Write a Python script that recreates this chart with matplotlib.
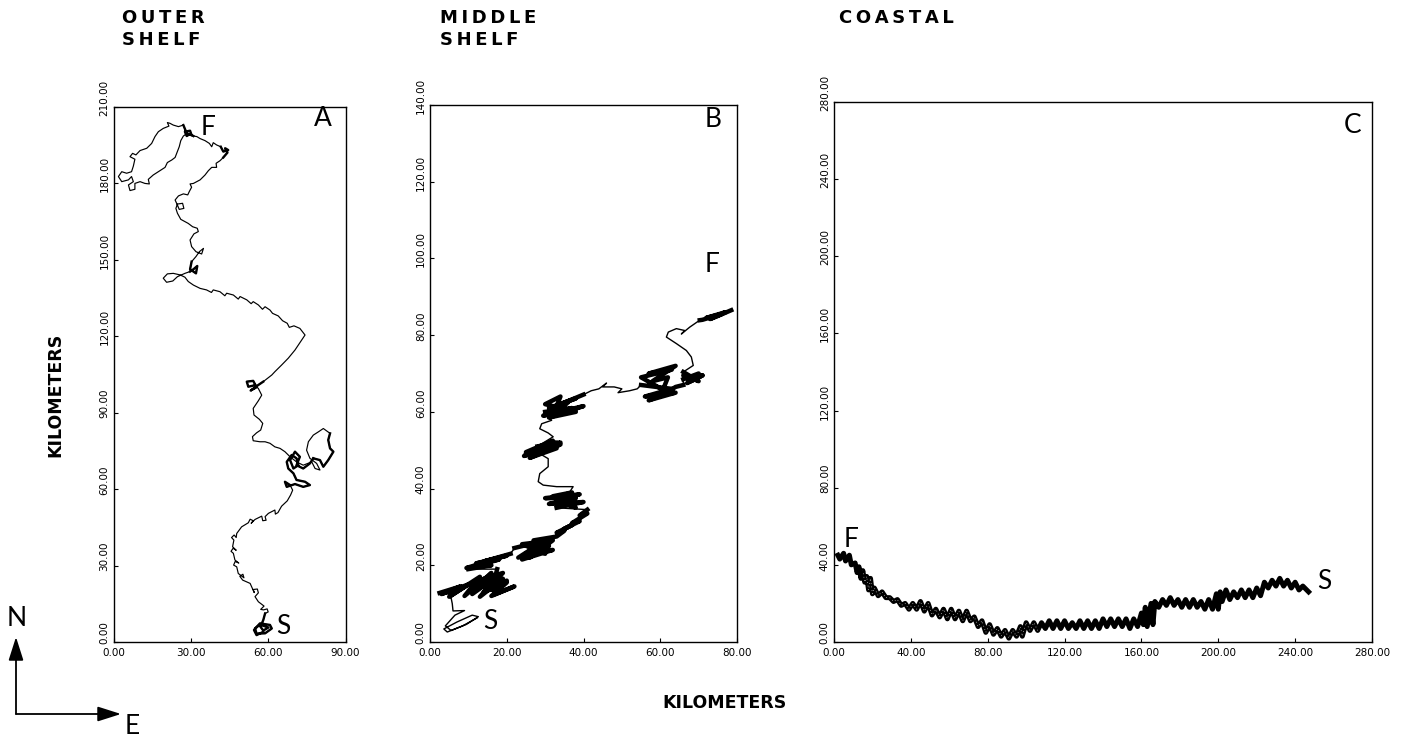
import matplotlib
matplotlib.use("Agg")
import matplotlib.pyplot as plt
import matplotlib.transforms as mtransforms
from matplotlib.patches import FancyArrowPatch
from matplotlib.ticker import FormatStrFormatter

# ---------------- data (km, start S -> finish F) ----------------
outer_x = [58.1, 55.5, 54.5, 56.8, 60.7, 61.4, 58.8, 55.5, 54.9, 56.8, 60.1, 58.1, 57.0, 58.1, 58.8,
           60.0, 59.6, 58.2, 57.1, 58.4, 56.2, 54.9, 56.2, 55.8, 54.2, 54.6, 53.0, 50.1, 49.0, 50.2,
           50.6, 48.4, 47.8, 46.6, 47.2, 48.6, 47.1, 46.5, 45.6, 46.4, 47.6, 46.2, 46.7, 45.8, 46.8,
           47.6, 47.8, 49.7, 52.3, 53.0, 54.2, 53.4, 54.9, 57.5, 57.9, 59.2, 58.8, 60.1, 62.6, 62.8,
           63.8, 65.2, 67.4, 68.7, 69.5,
           68.5, 66.5, 67.2, 70.4, 73.6, 76.2, 74.3, 71.0, 69.8, 67.8, 67.2, 69.1, 71.0, 71.7, 69.8,
           68.5, 70.4, 72.3, 71.0, 73.6, 76.2, 77.5, 80.1, 81.4, 83.3, 85.3, 84.0, 83.3, 84.0, 81.4,
           79.5, 77.5, 75.6, 74.9, 76.2, 78.8, 80.1, 78.2, 76.9, 73.6, 71.0, 68.5, 66.5, 64.6, 62.6,
           60.7, 58.8, 56.8, 54.2, 53.9, 55.5, 57.1, 57.9, 56.6, 54.5, 54.2, 56.2, 57.5, 56.2, 54.9,
           52.3, 51.7, 54.2, 55.5, 53.2, 56.2, 58.1, 61.4, 62.6, 65.2, 67.8, 70.4, 72.6, 74.3,
           72.3, 70.0, 68.2, 67.4, 65.6, 63.9, 61.7, 60.7, 58.8, 57.8, 56.2, 54.2, 53.4, 51.7, 49.1,
           48.4, 46.5, 43.9, 43.2, 41.3, 38.7, 38.0, 36.1, 33.6, 31.0, 29.0, 27.7, 25.8, 23.2, 20.9,
           19.3, 20.6, 23.0, 24.8, 27.7, 29.7, 31.0, 32.5, 32.0, 29.7, 30.3, 32.0, 33.3, 34.9, 34.2,
           32.0, 30.3, 29.7, 31.2, 32.9, 32.5, 30.7, 29.0, 27.7, 26.1, 24.8, 24.2, 24.8, 26.8, 27.3,
           25.5, 24.8, 23.9, 25.2, 27.1, 28.8, 29.4, 30.3, 29.7, 31.0, 33.6, 35.5, 36.8, 38.1, 40.0,
           39.8, 41.3, 42.6, 44.2, 43.3, 44.5, 42.6, 41.6, 40.0, 38.7, 38.1, 37.2, 35.5, 33.6, 32.3,
           31.0, 29.7, 28.4, 27.7, 29.7, 30.3, 28.4, 27.1, 25.2, 23.2, 21.9, 20.9, 21.5, 19.3, 17.4,
           16.1, 14.8, 12.9, 10.3, 8.7, 7.4, 6.4, 8.3, 7.7, 7.0, 5.1, 3.2, 1.9, 3.2, 5.8,
           7.0, 7.7, 5.8, 6.4, 8.3, 8.3, 10.3, 12.2, 13.9, 13.5, 15.4, 18.0, 20.0, 20.9, 22.6,
           23.9, 24.8, 25.5, 26.1, 27.1, 28.6]
outer_y = [4.0, 2.7, 4.7, 7.3, 6.7, 5.3, 3.4, 3.3, 5.3, 6.8, 5.7, 4.5, 6.0, 8.6, 11.2,
           11.8, 13.0, 12.6, 12.8, 14.1, 15.8, 17.8, 19.3, 20.8, 20.6, 19.4, 23.0, 24.3, 25.8, 26.6,
           25.2, 26.9, 29.5, 30.2, 31.6, 31.0, 32.2, 34.8, 35.6, 36.8, 36.0, 37.4, 40.0, 41.0, 42.0,
           41.0, 42.6, 45.2, 46.8, 48.2, 47.6, 46.6, 48.1, 49.4, 47.6, 47.8, 49.2, 50.5, 51.8, 50.2,
           50.8, 53.3, 55.4, 57.7, 59.6,
           61.6, 62.9, 60.9, 62.0, 60.9, 61.6, 62.9, 63.6, 66.2, 68.1, 70.7, 73.4, 72.1, 69.4, 68.1,
           71.4, 74.7, 72.7, 69.4, 68.1, 70.1, 72.1, 71.4, 68.8, 71.4, 74.7, 76.0, 79.3, 81.9, 83.8,
           82.5, 81.2, 78.6, 75.3, 72.1, 70.1, 67.5, 68.1, 70.7, 69.4, 70.7, 72.7, 74.7, 76.0, 76.6,
           78.0, 78.6, 78.6, 79.0, 80.6, 82.1, 83.2, 85.8, 87.4, 89.1, 91.7, 94.7, 96.9, 99.5, 100.8,
           100.2, 102.2, 102.5, 100.0, 98.7, 100.9, 102.2, 104.8, 106.1, 108.7, 111.4, 114.6, 117.9, 120.5,
           123.1, 124.1, 123.5, 125.1, 126.1, 128.0, 129.0, 130.3, 131.6, 130.6, 132.3, 133.6, 132.8, 134.3, 135.6,
           134.6, 136.2, 136.9, 135.9, 137.5, 138.2, 137.2, 138.2, 138.8, 140.1, 141.5, 143.2, 144.1, 144.7, 144.5,
           142.8, 141.2, 141.7, 143.4, 144.7, 145.4, 146.3, 147.6, 144.7, 146.3, 149.3, 151.3, 153.2, 154.5, 152.3,
           153.2, 155.2, 157.8, 160.2, 161.1, 162.4, 163.0, 164.3, 165.0, 165.9, 168.3, 170.2, 171.9, 172.2, 170.2,
           169.8, 171.5, 173.5, 175.1, 175.9, 175.5, 176.8, 178.5, 179.8, 180.0, 181.4, 183.3, 185.0, 186.3, 186.3,
           187.9, 188.9, 190.2, 192.1, 193.8, 193.1, 192.5, 194.4, 195.1, 196.0, 194.4, 195.7, 196.8, 197.6, 198.4,
           198.6, 199.4, 198.6, 200.3, 200.7, 198.9, 199.7, 202.9, 202.3, 202.9, 203.6, 203.9, 202.5, 201.6, 200.3,
           198.4, 195.7, 193.8, 192.9, 191.2, 191.8, 190.5, 189.5, 186.8, 184.6, 184.0, 184.6, 182.7, 180.7, 181.4,
           182.7, 180.7, 179.4, 177.2, 177.7, 180.0, 180.7, 180.0, 179.8, 181.6, 183.3, 185.0, 186.3, 188.2, 189.2,
           190.2, 192.5, 194.4, 196.8, 198.6, 199.7]

middle_x = [12.3, 8.5, 4.5, 3.6, 7.0, 11.0, 12.6, 9.5, 5.5, 4.0, 6.5, 9.0, 6.0, 5.8, 5.5, 5.0,
            2.5, 8.0, 3.0, 10.0, 5.0, 13.0, 9.0, 16.0, 11.0, 18.0, 13.0, 19.0, 14.0, 20.0, 16.0,
            22.0, 17.0, 20.0, 15.0, 19.0, 14.0, 18.0, 12.0, 17.0, 17.5, 10.0, 16.0, 9.5, 15.0, 11.0,
            18.0, 12.0, 20.0, 14.0, 21.0, 22.0, 30.0, 23.0, 31.0, 24.0, 32.0, 25.0, 31.0, 26.0, 32.0,
            24.0, 30.0, 27.0, 33.0, 35.0, 33.0, 37.0, 35.0, 39.0, 37.0, 41.0, 39.0, 41.0, 33.0, 40.0,
            31.0, 38.0, 30.0, 39.0, 33.0, 38.0, 32.0, 37.0, 35.0, 36.0, 37.3, 33.0, 29.5, 28.2, 28.6,
            30.8, 30.8, 28.6, 25.0, 33.0, 24.5, 34.0, 26.0, 33.0, 25.0, 32.0, 27.0, 34.0, 28.0, 32.1,
            30.8, 28.6, 29.1, 31.7, 30.0, 37.0, 29.5, 40.0, 31.0, 38.0, 30.0, 34.0, 32.0, 36.0, 31.0,
            38.0, 34.0, 40.0, 42.0, 44.0, 46.0, 45.0, 48.0, 50.0, 49.0, 52.0, 54.0, 55.0, 63.0, 56.0,
            64.0, 57.0, 62.0, 55.0, 63.0, 57.0, 64.0, 58.0, 62.0, 60.0, 64.0, 66.0, 66.0, 70.0, 67.0,
            71.0, 68.0, 66.0, 70.0, 66.0, 68.6, 68.1, 66.8, 64.2, 61.6, 62.1, 64.2, 66.4, 65.5, 67.7,
            70.3, 71.0, 76.0, 72.0, 77.0, 73.0, 75.0, 78.5]
middle_y = [6.3, 4.2, 2.6, 3.4, 5.2, 7.0, 6.6, 4.6, 3.0, 4.2, 7.0, 8.2, 8.1, 10.0, 11.5, 12.5,
            12.8, 14.5, 12.5, 15.0, 11.8, 17.0, 12.0, 18.0, 12.5, 17.5, 11.8, 16.5, 13.0, 15.5, 12.0,
            14.5, 12.5, 16.0, 14.0, 18.0, 16.5, 13.0, 15.0, 17.0, 19.0, 19.0, 20.0, 19.3, 21.0, 19.5,
            21.5, 20.5, 22.5, 21.0, 23.0, 24.5, 26.5, 22.0, 25.0, 21.5, 24.0, 23.0, 27.0, 22.0, 26.5,
            25.5, 23.0, 26.5, 27.5, 29.0, 28.5, 30.5, 29.5, 31.5, 31.0, 33.5, 33.0, 34.5, 35.0, 36.5,
            36.0, 37.5, 37.5, 38.5, 37.0, 35.0, 38.0, 39.0, 36.0, 38.5, 40.5, 40.5, 40.9, 41.8, 43.9,
            45.7, 47.8, 49.1, 49.0, 52.0, 48.5, 51.5, 48.0, 50.5, 49.5, 52.5, 50.0, 52.0, 51.0, 53.5,
            54.5, 55.6, 56.9, 57.8, 60.0, 61.0, 59.0, 61.5, 58.5, 60.0, 62.0, 64.0, 59.0, 62.5, 61.0,
            63.5, 62.0, 64.5, 65.5, 66.0, 67.5, 66.5, 66.5, 66.0, 65.0, 65.5, 66.0, 67.0, 66.0, 64.0,
            65.0, 63.0, 65.0, 69.0, 71.0, 70.0, 72.0, 68.0, 69.0, 64.0, 66.5, 67.0, 68.5, 70.0, 67.5,
            69.5, 68.0, 69.5, 68.0, 70.4, 72.1, 74.3, 76.0, 77.8, 79.5, 80.8, 81.7, 81.2, 80.3, 82.1,
            83.9, 84.0, 85.5, 84.5, 86.0, 84.2, 85.0, 86.5]

coastal_x = [247, 244, 242, 240, 238, 236, 234, 232, 230, 228, 226, 224, 222, 220, 218, 216, 214,
             212, 210, 208, 206, 204, 202, 201, 200, 199, 197, 195, 193, 191, 189, 187, 185, 183,
             181, 179, 177, 175, 173, 171, 169, 167, 166, 165, 163, 162, 161, 160, 158, 156, 154,
             152, 150, 148, 146, 144, 142, 140, 138, 136, 134, 132, 130, 128, 126, 124, 122, 120,
             118, 116, 114, 112, 110, 108, 106, 104, 102, 100, 98, 97, 95, 93, 91, 89, 87, 85, 83,
             81, 79, 77, 75, 73, 71, 69, 67, 65, 63, 61, 59, 57, 55, 53, 51, 49, 47, 45, 43, 41,
             39, 37, 35, 33, 31, 29, 27, 25, 23, 21, 20, 19, 18, 17, 16, 15, 14, 13, 12, 11, 9,
             8, 6, 5, 3, 2]
coastal_y = [26, 29, 27, 31, 28, 32, 29, 33, 29, 32, 28, 31, 24, 28, 23, 27, 23,
             27, 23, 26, 22, 27, 21, 26, 17, 25, 17, 22, 17, 21, 18, 22, 18, 22,
             18, 22, 19, 23, 19, 22, 18, 21, 9, 20, 8, 18, 9, 15, 8, 12, 7,
             12, 8, 12, 8, 12, 8, 12, 7, 11, 7, 11, 7, 11, 7, 10, 7, 11,
             7, 11, 7, 11, 7, 10, 6, 10, 6, 10, 3, 8, 3, 6, 2, 6, 3, 7, 4,
             9, 5, 11, 8, 13, 11, 16, 11, 16, 12, 17, 12, 17, 13, 17, 14, 20, 16, 21, 17, 20,
             17, 20, 19, 22, 21, 23, 23, 26, 24, 28, 25, 33, 27, 34, 31, 37, 33, 39, 36, 41, 40,
             45, 42, 46, 43, 45]

outer_ticks_x = [0, 30, 60, 90]
outer_ticks_y = [0, 30, 60, 90, 120, 150, 180, 210]
middle_ticks_x = [0, 20, 40, 60, 80]
middle_ticks_y = [0, 20, 40, 60, 80, 100, 120, 140]
coastal_ticks_x = [0, 40, 80, 120, 160, 200, 240, 280]
coastal_ticks_y = [0, 40, 80, 120, 160, 200, 240, 280]

titles = ["O\u2009U\u2009T\u2009E\u2009R\nS\u2009H\u2009E\u2009L\u2009F",
          "M\u2009I\u2009D\u2009D\u2009L\u2009E\nS\u2009H\u2009E\u2009L\u2009F",
          "C\u2009O\u2009A\u2009S\u2009T\u2009A\u2009L"]
axis_label = "KILOMETERS"
panel_letters = ["A", "B", "C"]

# ---------------- style (index ranges of densely looping stretches) ----------------
outer_dense = [(0, 14), (65, 86), (86, 93), (124, 131), (174, 179), (216, 221), (229, 236)]
middle_dense = [(16, 41), (41, 51), (51, 74), (74, 86), (93, 105), (110, 124), (133, 148),
                (148, 156), (166, 174)]

# ---------------- figure ----------------
W, H = 1414, 747
fig = plt.figure(figsize=(W / 100, H / 100), dpi=100)
fig.patch.set_facecolor("white")


def make_axes(left, right, top, bottom, xt, yt):
    ax = fig.add_axes([left / W, 1 - bottom / H, (right - left) / W, (bottom - top) / H])
    ax.set_xlim(xt[0], xt[-1])
    ax.set_ylim(yt[0], yt[-1])
    ax.set_xticks(xt)
    ax.set_yticks(yt)
    ax.xaxis.set_major_formatter(FormatStrFormatter("%.2f"))
    ax.yaxis.set_major_formatter(FormatStrFormatter("%.2f"))
    ax.tick_params(direction="in", length=3, width=0.8, labelsize=7.5)
    ax.tick_params(axis="x", pad=4.5)
    ax.tick_params(axis="y", pad=3)
    shift = mtransforms.ScaledTranslation(0, 0.09, fig.dpi_scale_trans)
    for lab in ax.get_yticklabels():
        lab.set_rotation(90)
        lab.set_va("center")
        lab.set_transform(lab.get_transform() + shift)
    for s in ax.spines.values():
        s.set_linewidth(1.0)
    return ax


axA = make_axes(113.5, 345.5, 107, 642, outer_ticks_x, outer_ticks_y)
axB = make_axes(430, 737, 105, 642, middle_ticks_x, middle_ticks_y)
axC = make_axes(834, 1372, 102, 642, coastal_ticks_x, coastal_ticks_y)

axA.plot(outer_x, outer_y, color="black", lw=0.85, solid_joinstyle="round")
for a, b in outer_dense:
    axA.plot(outer_x[a:b + 1], outer_y[a:b + 1], color="black", lw=1.7, solid_joinstyle="round")

axB.plot(middle_x, middle_y, color="black", lw=1.0, solid_joinstyle="round")
for a, b in middle_dense:
    axB.plot(middle_x[a:b], middle_y[a:b], color="black", lw=3.2, solid_joinstyle="round")

axC.plot(coastal_x, coastal_y, color="black", lw=3.6, solid_joinstyle="round")
axC.plot(coastal_x[-60:-10], coastal_y[-60:-10], color="white", lw=0.5, ls=(0, (1, 4)))

lab_kw = dict(fontsize=19, color="black", ha="center", va="center", fontweight="normal",
              family=["Lato", "DejaVu Sans"])
axA.text(36.8, 202.0, "F", **lab_kw)
axA.text(65.9, 6.0, "S", **lab_kw)
axA.text(81.3, 205.5, panel_letters[0], **lab_kw)
axB.text(73.4, 98.5, "F", **lab_kw)
axB.text(15.6, 5.3, "S", **lab_kw)
axB.text(73.7, 136.2, panel_letters[1], **lab_kw)
axC.text(8.8, 53.0, "F", **lab_kw)
axC.text(255.0, 31.5, "S", **lab_kw)
axC.text(270.0, 268.0, panel_letters[2], **lab_kw)

title_kw = dict(fontsize=13, fontweight="bold", color="black", ha="left", va="top",
                linespacing=1.3, family="DejaVu Sans")
fig.text(122 / W, 1 - 9 / H, titles[0], **title_kw)
fig.text(440 / W, 1 - 9 / H, titles[1], **title_kw)
fig.text(839 / W, 1 - 9 / H, titles[2], **title_kw)

fig.text(55 / W, 1 - 395 / H, axis_label, rotation=90, fontsize=12.5, fontweight="bold",
         ha="center", va="center")
fig.text(725 / W, 1 - 703 / H, axis_label, fontsize=12.5, fontweight="bold",
         ha="center", va="center")

# north / east arrows
arrow_kw = dict(arrowstyle="-|>,head_length=1.1,head_width=0.35", color="black", lw=1.3,
                mutation_scale=13, shrinkA=0, shrinkB=0, transform=fig.transFigure)
fig.add_artist(FancyArrowPatch((16 / W, 1 - 714 / H), (16 / W, 1 - 637 / H), **arrow_kw))
fig.add_artist(FancyArrowPatch((16 / W, 1 - 714 / H), (121 / W, 1 - 714 / H), **arrow_kw))
fig.text(17 / W, 1 - 618 / H, "N", **lab_kw)
fig.text(132 / W, 1 - 726 / H, "E", **lab_kw)

fig.savefig("out.png", dpi=100, facecolor="white")
